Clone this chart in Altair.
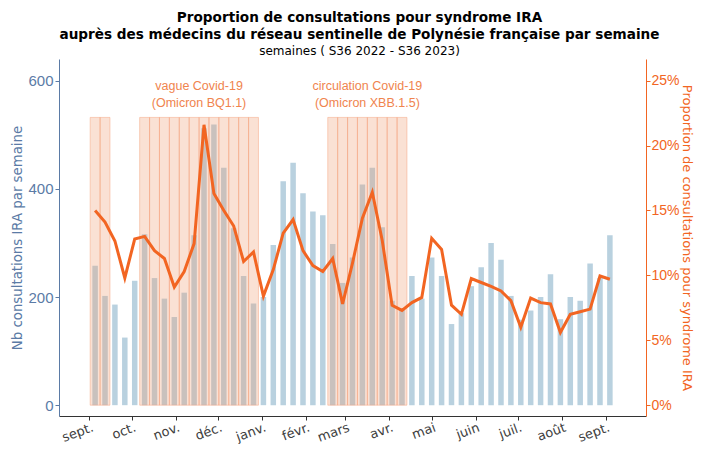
import altair as alt
import pandas as pd

# ---- data ----
weeks = [f"S{w} 2022" for w in range(36, 53)] + [f"S{w} 2023" for w in range(1, 37)]
week_monday = ["2022-09-05"]  # first week (S36 2022) starts on Monday 5 Sept 2022

nb_consult = [258, 202, 186, 125, 230, 316, 235, 197, 163, 208, 314, 512, 519,
              439, 327, 239, 188, 200, 296, 414, 448, 392, 358, 351, 298, 226,
              273, 408, 439, 329, 193, 178, 239, 197, 273, 239, 150, 170, 220,
              255, 300, 269, 202, 158, 175, 200, 242, 159, 200, 193, 262, 235, 314]

pct_ira = [15.0, 14.1, 12.65, 9.8, 12.8, 13.0, 11.9, 11.3, 9.1, 10.3, 12.45, 21.6,
           16.3, 15.0, 13.8, 11.07, 11.8, 8.4, 10.45, 13.25, 14.3, 11.9, 10.75,
           10.3, 11.3, 7.8, 10.95, 14.4, 16.4, 12.7, 7.7, 7.3, 7.9, 8.3, 12.85,
           12.0, 7.7, 7.0, 9.75, 9.45, 9.15, 8.8, 8.05, 6.0, 8.25, 7.9, 7.8, 5.6,
           7.0, 7.2, 7.4, 9.95, 9.7]

covid_weeks = (["S36 2022", "S37 2022"]
               + [f"S{w} 2022" for w in range(41, 53)]
               + [f"S{w} 2023" for w in range(8, 16)])
band_top = 532  # height of the shaded Covid periods (left-axis units)

annot_text = ["vague Covid-19\n(Omicron BQ1.1)", "circulation Covid-19\n(Omicron XBB.1.5)"]
annot_from = ["S41 2022", "S8 2023"]
annot_to = ["S52 2022", "S15 2023"]
annot_y = [590, 590]

month_labels = ["janv.", "févr.", "mars", "avr.", "mai", "juin", "juil.",
                "août", "sept.", "oct.", "nov.", "déc."]

# ---- tables ----
dates = pd.date_range(week_monday[0], periods=len(weeks), freq="7D")
half = pd.Timedelta(hours=84)
df = pd.DataFrame({"week": weeks, "date": dates, "nb": nb_consult, "pct": pct_ira})
df["start"] = df["date"] - half
df["end"] = df["date"] + half
bands = df[df["week"].isin(covid_weeks)].copy()

wk = dict(zip(weeks, dates))
ann = pd.DataFrame({
    "text": annot_text,
    "date": [wk[a] + (wk[b] - wk[a]) / 2 for a, b in zip(annot_from, annot_to)],
    "y": annot_y,
})

FONT = "Liberation Sans"
WFONT = "DejaVu Sans"
BLUE = "#5B7BA6"
ORANGE = "#F26522"

xscale = alt.Scale(domain=[alt.DateTime(year=2022, month=8, date=14),
                           alt.DateTime(year=2023, month=9, date=26)], nice=False)
tick_dates = [alt.DateTime(year=2022 + (1 if m > 12 else 0), month=((m - 1) % 12) + 1, date=1)
              for m in range(9, 22)]
xaxis = alt.Axis(values=tick_dates,
                 labelExpr="%s[month(datum.value)]" % str(month_labels),
                 labelAngle=-20, labelAlign="right", labelBaseline="top",
                 labelFont=WFONT, labelFontSize=13, labelColor="#404040",
                 domainColor="#333333", tickColor="#333333", tickSize=4,
                 labelPadding=1, labelOffset=1, grid=False, title=None,
                 labelOverlap=False, labelBound=False)

YDOM = [-20, 640]
yscale = alt.Scale(domain=YDOM, nice=False, zero=False)
yaxis = alt.Axis(values=[0, 200, 400, 600], title="Nb consultations IRA par semaine",
                 labelFont=FONT, labelFontSize=15, labelColor=BLUE,
                 titleFont=WFONT, titleFontSize=13.3, titleFontWeight="normal",
                 titleColor=BLUE, domainColor=BLUE, tickColor=BLUE, tickSize=4,
                 labelPadding=2, titlePadding=3, grid=False)

bars = alt.Chart(df).mark_bar(size=5.5, color="#B9D1DF").encode(
    x=alt.X("date:T", scale=xscale, axis=xaxis),
    y=alt.Y("nb:Q", scale=yscale, axis=yaxis),
)

shade = alt.Chart(bands).mark_rect(
    fill="#F09A70", fillOpacity=0.3, stroke="#F4A07A", strokeWidth=0.8, strokeOpacity=0.6
).encode(
    x=alt.X("start:T", scale=xscale, axis=xaxis),
    x2="end:T",
    y=alt.Y(datum=0, scale=yscale, axis=yaxis),
    y2=alt.datum(band_top),
)

labels = alt.Chart(ann).mark_text(
    font=FONT, fontSize=12.5, color="#F0844E", lineBreak="\n", lineHeight=17,
    baseline="middle", align="center"
).encode(
    x=alt.X("date:T", scale=xscale, axis=xaxis),
    y=alt.Y("y:Q", scale=yscale, axis=yaxis),
    text="text:N",
)

left = alt.layer(bars, shade, labels)

line = alt.Chart(df).mark_line(color=ORANGE, strokeWidth=3).encode(
    x=alt.X("date:T", scale=xscale, axis=xaxis),
    y=alt.Y("pct:Q",
            scale=alt.Scale(domain=[YDOM[0] / 24, YDOM[1] / 24], nice=False, zero=False),
            axis=alt.Axis(orient="right", values=[0, 5, 10, 15, 20, 25],
                          labelExpr="datum.value + '%'",
                          title="Proportion de consultations pour syndrome IRA",
                          labelFont=FONT, labelFontSize=14, labelColor=ORANGE,
                          titleFont=WFONT, titleFontSize=13, titleFontWeight="normal",
                          titleColor=ORANGE, domainColor=ORANGE, tickColor=ORANGE,
                          tickSize=4, labelPadding=1, titlePadding=0, grid=False)),
)

chart = alt.layer(left, line).resolve_scale(y="independent").properties(
    width=587, height=357,
    autosize=alt.AutoSizeParams(type="none"),
    padding={"left": 51, "top": 51, "right": 48, "bottom": 29},
    title=alt.TitleParams(
        text=["Proportion de consultations pour syndrome IRA",
              "auprès des médecins du réseau sentinelle de Polynésie française par semaine"],
        subtitle="semaines ( S36 2022 - S36 2023)",
        font=WFONT, fontSize=13.6, fontWeight="bold", color="black", lineHeight=17.5,
        subtitleFont=WFONT, subtitleFontSize=12, subtitleColor="black",
        subtitlePadding=4, anchor="middle", offset=2, dx=7,
    ),
).configure_view(strokeWidth=0)

chart.save("out.html", embed_options={"renderer": "svg", "actions": False})
